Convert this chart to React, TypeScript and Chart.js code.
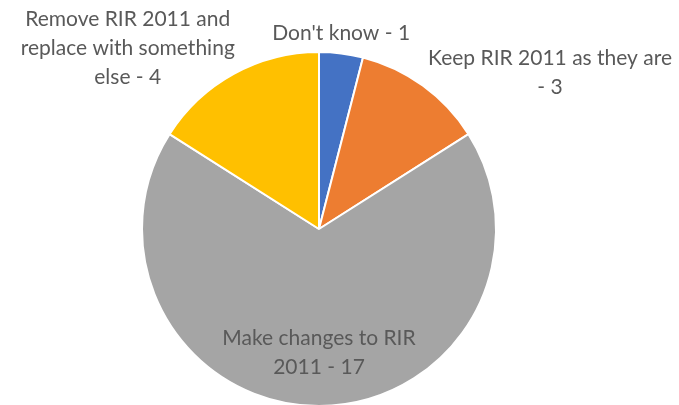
import React, { useEffect, useRef } from "react";
import { Chart, registerables } from "chart.js";

Chart.register(...registerables);

const categories: string[][] = [
  ["Don't know - 1"],
  ["Keep RIR 2011 as they are", "- 3"],
  ["Make changes to RIR", "2011 - 17"],
  ["Remove RIR 2011 and", "replace with something", "else - 4"],
];
const values: number[] = [1, 3, 17, 4];
const colors: string[] = ["#4472C4", "#ED7D31", "#A5A5A5", "#FFC000"];

// label placement: offset of text block centre from the slice's outer mid point, or inside factor
const labelLayout = [
  { inside: false, dx: 0, dy: -20 },
  { inside: false, dx: 127, dy: -13 },
  { inside: true, factor: 0.7 },
  { inside: false, dx: -106, dy: -26 },
];

const FONT = "Lato";
const FONT_SIZE = 21;
const LINE_H = 29;

const labelPlugin = {
  id: "sliceLabels",
  afterDatasetsDraw(chart: any) {
    const ctx = chart.ctx;
    const meta = chart.getDatasetMeta(0);
    ctx.save();
    ctx.font = `${FONT_SIZE}px ${FONT}`;
    ctx.fillStyle = "#595959";
    ctx.textAlign = "center";
    ctx.textBaseline = "middle";
    meta.data.forEach((arc: any, i: number) => {
      const { x, y, startAngle, endAngle, outerRadius } = arc.getProps(
        ["x", "y", "startAngle", "endAngle", "outerRadius"],
        true
      );
      const mid = (startAngle + endAngle) / 2;
      const lay: any = labelLayout[i];
      let cx: number, cy: number;
      if (lay.inside) {
        cx = x + Math.cos(mid) * outerRadius * lay.factor;
        cy = y + Math.sin(mid) * outerRadius * lay.factor;
      } else {
        cx = x + Math.cos(mid) * outerRadius + lay.dx;
        cy = y + Math.sin(mid) * outerRadius + lay.dy;
      }
      const lines = categories[i];
      const top = cy - ((lines.length - 1) * LINE_H) / 2;
      lines.forEach((l, k) => ctx.fillText(l, cx, top + k * LINE_H));
    });
    ctx.restore();
  },
};

export default function App() {
  const ref = useRef<HTMLCanvasElement>(null);
  useEffect(() => {
    const chart = new Chart(ref.current!, {
      type: "pie",
      data: {
        labels: categories.map((c) => c.join(" ")),
        datasets: [
          {
            data: values,
            backgroundColor: colors,
            borderColor: "#ffffff",
            borderWidth: 2,
          },
        ],
      },
      options: {
        animation: false,
        responsive: false,
        maintainAspectRatio: false,
        layout: { padding: { top: 51, left: 141, right: 182, bottom: 3 } },
        plugins: { legend: { display: false }, tooltip: { enabled: false } },
      },
      plugins: [labelPlugin],
    });
    return () => chart.destroy();
  }, []);
  return (
    <div
      style={{
        position: "fixed",
        left: 0,
        top: 0,
        width: 679,
        height: 405,
        overflow: "hidden",
        background: "#fff",
      }}
    >
      <canvas ref={ref} width={679} height={410} style={{ width: 679, height: 410 }} />
    </div>
  );
}
